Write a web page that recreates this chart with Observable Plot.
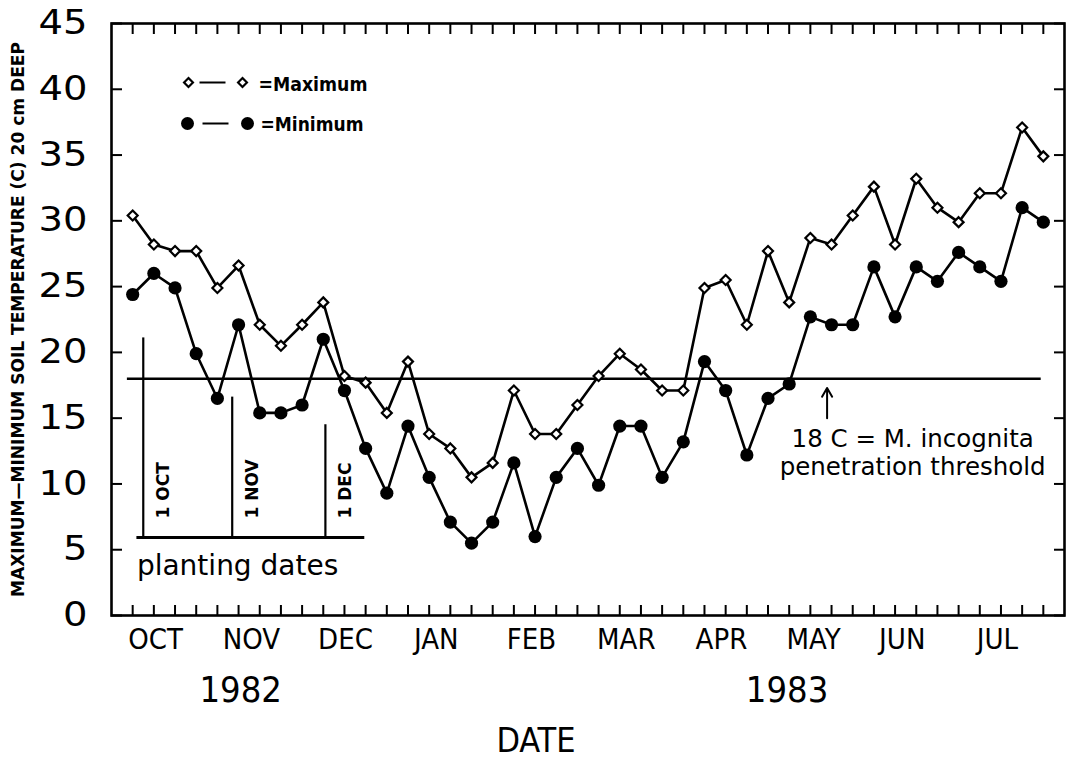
<!DOCTYPE html>
<html>
<head>
<meta charset="utf-8">
<script src="https://cdn.jsdelivr.net/npm/d3@7"></script>
<script src="https://cdn.jsdelivr.net/npm/@observablehq/plot@0.6"></script>
<style>
  html, body { margin: 0; padding: 0; background: #fff; }
  #chart { width: 1073px; height: 759px; }
</style>
</head>
<body>
<div id="chart"></div>
<script>
// ---------------- data ----------------
// weekly readings, week 0 = last week of Sept 1982
const weeks = d3.range(44);
const maxTemp = [30.4, 28.2, 27.7, 27.7, 24.9, 26.6, 22.1, 20.5, 22.1, 23.8,
                 18.2, 17.7, 15.4, 19.3, 13.8, 12.7, 10.5, 11.6, 17.1, 13.8,
                 13.8, 16.0, 18.2, 19.9, 18.7, 17.1, 17.1, 24.9, 25.5, 22.1,
                 27.7, 23.8, 28.7, 28.2, 30.4, 32.6, 28.2, 33.2, 31.0, 29.9,
                 32.1, 32.1, 37.1, 34.9];
const minTemp = [24.4, 26.0, 24.9, 19.9, 16.5, 22.1, 15.4, 15.4, 16.0, 21.0,
                 17.1, 12.7, 9.3, 14.4, 10.5, 7.1, 5.5, 7.1, 11.6, 6.0,
                 10.5, 12.7, 9.9, 14.4, 14.4, 10.5, 13.2, 19.3, 17.1, 12.2,
                 16.5, 17.6, 22.7, 22.1, 22.1, 26.5, 22.7, 26.5, 25.4, 27.6,
                 26.5, 25.4, 31.0, 29.9];
const monthLabels = ["OCT", "NOV", "DEC", "JAN", "FEB", "MAR", "APR", "MAY", "JUN", "JUL"];
const monthWeek = [1.08, 5.61, 10.05, 14.34, 18.83, 23.31, 27.8, 32.15, 36.34, 40.83];
const yearLabels = ["1982", "1983"];
const yearWeek = [5.1, 30.9];
const yTicks = [0, 5, 10, 15, 20, 25, 30, 35, 40, 45];
const threshold = 18;
const thresholdSpan = [-0.25, 42.9];
const thresholdLabel = "18 C = M. incognita\npenetration threshold";
const thresholdLabelWeek = 36.83;
const thresholdLabelTop = 14.4;
const arrowWeek = 32.79;
const arrowSpan = [15.0, 17.3];
const plantingLabels = ["1 OCT", "1 NOV", "1 DEC"];
const plantingWeek = [0.5, 4.7, 9.1];
const plantingTop = [21.1, 16.6, 14.5];
const plantingBase = 5.93;
const plantingBaseSpan = [0.2, 10.96];
const plantingCaption = "planting dates";
const yLabel = "MAXIMUM\u2014MINIMUM SOIL TEMPERATURE (C) 20 cm DEEP";
const xLabel = "DATE";
const legendLabels = ["=Maximum", "=Minimum"];

// ---------------- tables ----------------
const maxRows = weeks.map((w, i) => ({week: w, value: maxTemp[i]}));
const minRows = weeks.map((w, i) => ({week: w, value: minTemp[i]}));
const plantRows = plantingWeek.map((w, i) => ({week: w, top: plantingTop[i], label: plantingLabels[i]}));
const monthMap = new Map(monthWeek.map((w, i) => [w, monthLabels[i]]));
const yearMap = new Map(yearWeek.map((w, i) => [w, yearLabels[i]]));

const geo = "'DejaVu Sans', sans-serif";
const narrow = "'Liberation Sans Narrow', 'DejaVu Sans Condensed', sans-serif";
const hline = {draw(ctx) { ctx.moveTo(-13, 0); ctx.lineTo(13, 0); }};
const lw = 2.6;

const chart = Plot.plot({
  width: 1073,
  height: 759,
  marginLeft: 111,
  marginRight: 9,
  marginTop: 23,
  marginBottom: 144,
  style: {background: "#fff", color: "#000"},
  x: {domain: [-1, 44], axis: null},
  y: {domain: [0, 45], axis: null},
  marks: [
    Plot.frame({stroke: "#000", strokeWidth: 2.6}),
    // inward ticks
    Plot.axisY(yTicks, {anchor: "left", tickSize: -11, tickFormat: () => "", strokeWidth: 2, label: null}),
    Plot.axisY(yTicks, {anchor: "right", tickSize: -11, tickFormat: () => "", strokeWidth: 2, label: null}),
    Plot.axisX(weeks, {anchor: "bottom", tickSize: -10, tickFormat: () => "", strokeWidth: 2, label: null}),
    Plot.axisX(weeks, {anchor: "top", tickSize: -10, tickFormat: () => "", strokeWidth: 2, label: null}),
    // tick labels
    Plot.axisY(yTicks, {anchor: "left", tickSize: 0, tickPadding: 24, fontSize: 33, fontFamily: geo, label: null, className: "ytl"}),
    Plot.axisX(monthWeek, {anchor: "bottom", tickSize: 0, tickPadding: 13, tickFormat: d => monthMap.get(d), fontSize: 29, fontFamily: narrow, label: null}),
    Plot.axisX(yearWeek, {anchor: "bottom", tickSize: 0, tickPadding: 61, tickFormat: d => yearMap.get(d), fontSize: 36, fontFamily: narrow, label: null}),
    Plot.text([xLabel], {frameAnchor: "bottom", lineAnchor: "top", dx: -52, dy: 112, fontSize: 34, fontFamily: narrow}),
    Plot.text([yLabel], {frameAnchor: "left", textAnchor: "middle", lineAnchor: "middle", rotate: -90, dx: -93, fontSize: 18, fontWeight: "bold", fontFamily: narrow}),
    // threshold
    Plot.ruleY([threshold], {x1: thresholdSpan[0], x2: thresholdSpan[1], stroke: "#000", strokeWidth: lw}),
    Plot.arrow([0], {x1: arrowWeek, x2: arrowWeek, y1: arrowSpan[0], y2: arrowSpan[1], headLength: 11, strokeWidth: 2, stroke: "#000"}),
    Plot.text([thresholdLabel], {x: thresholdLabelWeek, y: thresholdLabelTop, lineAnchor: "top", fontSize: 24.5, lineHeight: 1.18, fontFamily: geo}),
    // planting dates
    Plot.ruleX(plantRows, {x: "week", y1: plantingBase, y2: "top", stroke: "#000", strokeWidth: 2.2}),
    Plot.ruleY([plantingBase], {x1: plantingBaseSpan[0], x2: plantingBaseSpan[1], stroke: "#000", strokeWidth: 2.8}),
    Plot.text(plantRows, {x: "week", y: plantingBase, text: "label", rotate: -90, textAnchor: "start", dx: 20, dy: -19, fontSize: 17, fontWeight: "bold", fontFamily: geo}),
    Plot.text([plantingCaption], {x: plantingBaseSpan[0], y: plantingBase, textAnchor: "start", lineAnchor: "bottom", dy: 38, fontSize: 28, fontFamily: geo}),
    // series
    Plot.line(maxRows, {x: "week", y: "value", stroke: "#000", strokeWidth: lw}),
    Plot.line(minRows, {x: "week", y: "value", stroke: "#000", strokeWidth: lw}),
    Plot.dot(maxRows, {x: "week", y: "value", symbol: "diamond2", r: 4.5, stroke: "#000", fill: "#fff", strokeWidth: 2.2}),
    Plot.dot(minRows, {x: "week", y: "value", r: 6.6, fill: "#000", stroke: "none"}),
    // legend
    Plot.dot([0], {frameAnchor: "top-left", dx: 77, dy: 59, symbol: "diamond2", r: 4, stroke: "#000", fill: "#fff", strokeWidth: 2.2}),
    Plot.dot([0], {frameAnchor: "top-left", dx: 101, dy: 59, symbol: hline, stroke: "#000", strokeWidth: 2}),
    Plot.dot([0], {frameAnchor: "top-left", dx: 131, dy: 59, symbol: "diamond2", r: 4, stroke: "#000", fill: "#fff", strokeWidth: 2.2}),
    Plot.text([legendLabels[0]], {frameAnchor: "top-left", dx: 147, dy: 61, textAnchor: "start", lineAnchor: "middle", fontSize: 20, fontWeight: "bold", fontFamily: narrow}),
    Plot.dot([0], {frameAnchor: "top-left", dx: 76, dy: 100, r: 6.5, fill: "#000", stroke: "none"}),
    Plot.dot([0], {frameAnchor: "top-left", dx: 104, dy: 100, symbol: hline, stroke: "#000", strokeWidth: 2}),
    Plot.dot([0], {frameAnchor: "top-left", dx: 136, dy: 100, r: 6.5, fill: "#000", stroke: "none"}),
    Plot.text([legendLabels[1]], {frameAnchor: "top-left", dx: 149, dy: 101, textAnchor: "start", lineAnchor: "middle", fontSize: 20, fontWeight: "bold", fontFamily: narrow})
  ]
});

// stretch some texts to the reference widths
const sel = d3.select(chart).selectAll("text");
const stretch = (str, len) => sel.filter(function() { return this.textContent === str; })
  .attr("textLength", len).attr("lengthAdjust", "spacingAndGlyphs");
stretch(yLabel, 555);
stretch(legendLabels[0], 109);
stretch(legendLabels[1], 103);
yTicks.forEach(t => stretch(String(t), String(t).length * 24.5));

document.getElementById("chart").appendChild(chart);
</script>
</body>
</html>
